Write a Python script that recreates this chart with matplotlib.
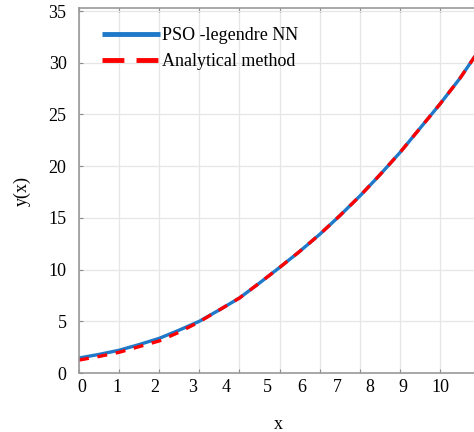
import numpy as np
import matplotlib
matplotlib.use("Agg")
import matplotlib.pyplot as plt

plt.rcParams['font.family'] = ['Liberation Serif', 'DejaVu Serif']

# sample points of the solution curve
x_vals = [0, 0.5, 1, 1.5, 2, 2.5, 3, 3.5, 4, 4.5, 5, 5.5, 6, 6.5, 7, 7.5, 8, 8.5, 9, 9.5, 9.93]
y_pso = [1.45, 1.8, 2.2, 2.75, 3.35, 4.15, 5.0, 6.1, 7.25, 8.7, 10.2, 11.75, 13.4, 15.2, 17.1,
         19.15, 21.3, 23.65, 26.0, 28.5, 30.95]
y_exact = [1.25, 1.6, 2.0, 2.55, 3.1, 3.95, 4.95, 6.1, 7.25, 8.7, 10.2, 11.75, 13.4, 15.2, 17.1,
           19.15, 21.3, 23.65, 26.0, 28.5, 30.95]

# grid ticks and the printed x labels (labels sit a little off the grid)
grid_ticks = np.arange(0, 10)
label_pos = [0.075, 0.95, 1.90, 2.84, 3.67, 4.69, 5.56, 6.43, 7.26, 8.08, 9.0]
label_txt = ['0', '1', '2', '3', '4', '5', '6', '7', '8', '9', '10']
y_ticks = np.arange(0, 36, 5)

fig = plt.figure(figsize=(4.74, 4.32), dpi=100)
ax = fig.add_axes([79 / 474, 59 / 432, 398 / 474, 364.7 / 432])

ax.plot(x_vals, y_pso, color='#1f78c8', lw=2.4, label='PSO -legendre NN', solid_capstyle='butt')
ax.plot(x_vals, y_exact, color='#ff0000', lw=2.4, ls=(0, (3.0, 2.6)), label='Analytical method')

ax.set_xlim(0, 9.925)
ax.set_ylim(0, 35.27)

ax.xaxis.remove_overlapping_locs = False
ax.set_xticks(grid_ticks)
ax.set_xticklabels([])
ax.set_xticks(label_pos, minor=True)
ax.set_xticklabels(label_txt, minor=True)
ax.tick_params(axis='x', which='minor', length=0, pad=4, labelsize=13)
ax.tick_params(axis='x', which='major', direction='in', length=3, top=True, color='0.55')
ax.set_yticks(y_ticks)
ax.tick_params(axis='y', direction='in', length=3, pad=9, labelsize=13, color='0.55')

ax.grid(True, which='major', color='0.9', lw=0.9)
ax.set_axisbelow(True)
for side in ['left', 'bottom', 'top', 'right']:
    ax.spines[side].set_color('0.6')
    ax.spines[side].set_linewidth(1.2)

ax.set_xlabel('x', fontsize=13, labelpad=15)
ax.set_ylabel('y(x)', fontsize=13, labelpad=13)

leg = ax.legend(loc='upper left', bbox_to_anchor=(0.058, 0.948), frameon=False, fontsize=13,
                handlelength=3.2, handletextpad=0.1, labelspacing=0.5, borderpad=0, borderaxespad=0)
for line in leg.get_lines():
    line.set_linewidth(3.5)
leg.get_lines()[1].set_linestyle((0, (4.5, 2.5)))

fig.savefig('out.png', dpi=100)
